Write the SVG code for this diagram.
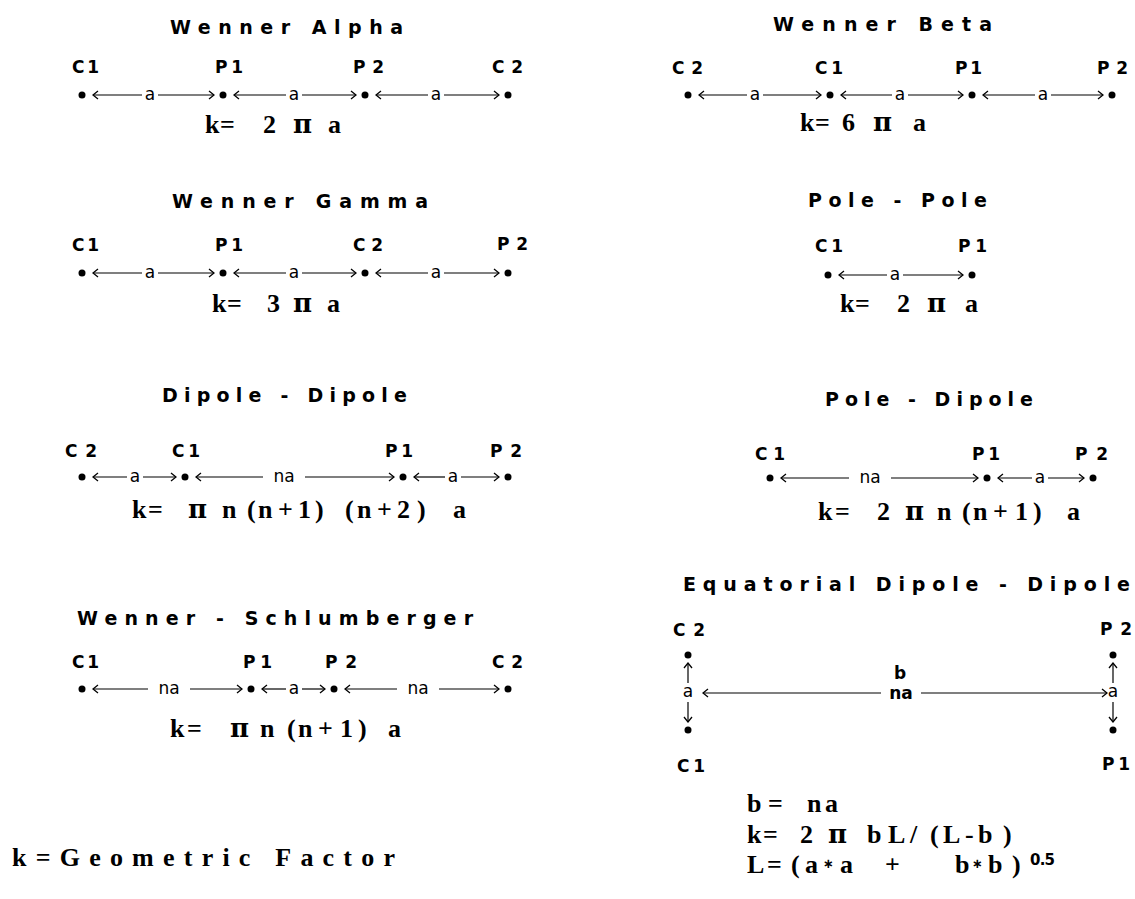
<svg xmlns="http://www.w3.org/2000/svg" width="1135" height="899" viewBox="0 0 1135 899">
<style>
.t{font-family:"DejaVu Sans","Liberation Sans",sans-serif;font-weight:bold;font-size:19px;fill:#000}
.l{font-family:"DejaVu Sans","Liberation Sans",sans-serif;font-weight:bold;font-size:17px;fill:#000}
.s{font-family:"DejaVu Sans","Liberation Sans",sans-serif;font-size:17px;fill:#000;text-anchor:middle}
.f{font-family:"Liberation Serif","Times New Roman",serif;font-weight:bold;font-size:26px;fill:#000}
.pi{font-family:"DejaVu Serif","Liberation Serif",serif;font-weight:bold}
.star{font-family:"DejaVu Sans",sans-serif;font-weight:bold;font-size:13px}
.sup{font-family:"DejaVu Sans","Liberation Sans",sans-serif;font-weight:bold;font-size:15px;fill:#000}
.d{fill:#000}
.a{fill:none;stroke:#000;stroke-width:1.2}
.st{marker-start:url(#ah)}
.en{marker-end:url(#ah)}
</style>
<defs>
<marker id="ah" viewBox="-7 -5 8 10" refX="0" refY="0" markerWidth="8" markerHeight="10" markerUnits="userSpaceOnUse" orient="auto-start-reverse">
<path d="M-5,-4 L0,0 L-5,4" fill="none" stroke="#000" stroke-width="1.3"/>
</marker>
</defs>
<rect width="1135" height="899" fill="#fff"/>

<g id="wenner-alpha">
<text class="t" x="170" y="34" textLength="233" lengthAdjust="spacing">Wenner Alpha</text>
<text class="l" x="72" y="73" textLength="27" lengthAdjust="spacing">C1</text>
<text class="l" x="215" y="73" textLength="28" lengthAdjust="spacing">P1</text>
<text class="l" x="353" y="73" textLength="31" lengthAdjust="spacing">P2</text>
<text class="l" x="492" y="73" textLength="31" lengthAdjust="spacing">C2</text>
<circle class="d" cx="82" cy="95" r="3.5"/><circle class="d" cx="223" cy="95" r="3.5"/><circle class="d" cx="365" cy="95" r="3.5"/><circle class="d" cx="508" cy="95" r="3.5"/>
<text class="f" x="205 220 263 293 328" y="133">k=2<tspan class="pi">π</tspan>a</text>
</g>

<g id="wenner-beta">
<text class="t" x="773" y="31" textLength="219" lengthAdjust="spacing">Wenner Beta</text>
<text class="l" x="672" y="74" textLength="31" lengthAdjust="spacing">C2</text>
<text class="l" x="815" y="74" textLength="28" lengthAdjust="spacing">C1</text>
<text class="l" x="955" y="74" textLength="27" lengthAdjust="spacing">P1</text>
<text class="l" x="1097" y="74" textLength="31" lengthAdjust="spacing">P2</text>
<circle class="d" cx="688" cy="95" r="3.5"/><circle class="d" cx="830" cy="95" r="3.5"/><circle class="d" cx="972" cy="95" r="3.5"/><circle class="d" cx="1112" cy="95" r="3.5"/>
<text class="f" x="800 815 842 873 913" y="131">k=6<tspan class="pi">π</tspan>a</text>
</g>

<g id="wenner-gamma">
<text class="t" x="172" y="208" textLength="256" lengthAdjust="spacing">Wenner Gamma</text>
<text class="l" x="72" y="251" textLength="27" lengthAdjust="spacing">C1</text>
<text class="l" x="215" y="251" textLength="28" lengthAdjust="spacing">P1</text>
<text class="l" x="353" y="251" textLength="30" lengthAdjust="spacing">C2</text>
<text class="l" x="497" y="250" textLength="31" lengthAdjust="spacing">P2</text>
<circle class="d" cx="82" cy="273" r="3.5"/><circle class="d" cx="223" cy="273" r="3.5"/><circle class="d" cx="365" cy="273" r="3.5"/><circle class="d" cx="508" cy="273" r="3.5"/>
<text class="f" x="212 227 267 293 327" y="312">k=3<tspan class="pi">π</tspan>a</text>
</g>

<g id="pole-pole">
<text class="t" x="808" y="207" textLength="179" lengthAdjust="spacing">Pole - Pole</text>
<text class="l" x="815" y="252" textLength="28" lengthAdjust="spacing">C1</text>
<text class="l" x="958" y="252" textLength="29" lengthAdjust="spacing">P1</text>
<circle class="d" cx="828" cy="275" r="3.5"/><circle class="d" cx="972" cy="275" r="3.5"/>
<text class="f" x="840 855 897 927 965" y="312">k=2<tspan class="pi">π</tspan>a</text>
</g>

<g id="dipole-dipole">
<text class="t" x="162" y="402" textLength="245" lengthAdjust="spacing">Dipole - Dipole</text>
<text class="l" x="65" y="457" textLength="32" lengthAdjust="spacing">C2</text>
<text class="l" x="172" y="457" textLength="28" lengthAdjust="spacing">C1</text>
<text class="l" x="385" y="457" textLength="28" lengthAdjust="spacing">P1</text>
<text class="l" x="490" y="457" textLength="32" lengthAdjust="spacing">P2</text>
<circle class="d" cx="82" cy="477" r="3.5"/><circle class="d" cx="185" cy="477" r="3.5"/><circle class="d" cx="403" cy="477" r="3.5"/><circle class="d" cx="508" cy="477" r="3.5"/>
<text class="f" x="132 148 188 222 247 258 278 298 315 345 357 377 397 417 453" y="518">k=<tspan class="pi">π</tspan>n(n+1)(n+2)a</text>
</g>

<g id="pole-dipole">
<text class="t" x="825" y="406" textLength="208" lengthAdjust="spacing">Pole - Dipole</text>
<text class="l" x="755" y="460" textLength="30" lengthAdjust="spacing">C1</text>
<text class="l" x="972" y="460" textLength="28" lengthAdjust="spacing">P1</text>
<text class="l" x="1075" y="460" textLength="33" lengthAdjust="spacing">P2</text>
<circle class="d" cx="770" cy="478" r="3.5"/><circle class="d" cx="987" cy="478" r="3.5"/><circle class="d" cx="1093" cy="478" r="3.5"/>
<text class="f" x="818 835 877 905 937 962 973 993 1015 1033 1067" y="520">k=2<tspan class="pi">π</tspan>n(n+1)a</text>
</g>

<g id="wenner-schlumberger">
<text class="t" x="77" y="625" textLength="396" lengthAdjust="spacing">Wenner - Schlumberger</text>
<text class="l" x="72" y="668" textLength="27" lengthAdjust="spacing">C1</text>
<text class="l" x="243" y="668" textLength="29" lengthAdjust="spacing">P1</text>
<text class="l" x="325" y="668" textLength="32" lengthAdjust="spacing">P2</text>
<text class="l" x="492" y="668" textLength="31" lengthAdjust="spacing">C2</text>
<circle class="d" cx="82" cy="689" r="3.5"/><circle class="d" cx="251" cy="689" r="3.5"/><circle class="d" cx="334" cy="689" r="3.5"/><circle class="d" cx="508" cy="689" r="3.5"/>
<text class="f" x="170 187 230 260 287 298 318 340 358 388" y="737">k=<tspan class="pi">π</tspan>n(n+1)a</text>
</g>

<g id="equatorial-dipole-dipole">
<text class="t" x="683" y="591" textLength="447" lengthAdjust="spacing">Equatorial Dipole - Dipole</text>
<text class="l" x="673" y="636" textLength="32" lengthAdjust="spacing">C2</text>
<text class="l" x="1100" y="635" textLength="32" lengthAdjust="spacing">P2</text>
<text class="l" x="677" y="772" textLength="28" lengthAdjust="spacing">C1</text>
<text class="l" x="1102" y="770" textLength="28" lengthAdjust="spacing">P1</text>
<circle class="d" cx="688" cy="655" r="3.5"/><circle class="d" cx="688" cy="730" r="3.5"/><circle class="d" cx="1113" cy="655" r="3.5"/><circle class="d" cx="1113" cy="730" r="3.5"/>
<text class="l" x="900" y="679" text-anchor="middle">b</text>
<text class="f" x="747 768 807 825" y="812">b=na</text>
<text class="f" x="747 763 800 828 867 888 910 930 943 965 978 1003" y="843">k=2<tspan class="pi">π</tspan>bL/(L-b)</text>
<text class="f" x="747 767 791 805 823 840 885 955 972 988 1012" y="873">L=(a<tspan class="star" dy="-5">∗</tspan><tspan dy="5">a+b</tspan><tspan class="star" dy="-5">∗</tspan><tspan dy="5">b)</tspan></text>
<text class="sup" x="1030" y="865" textLength="25" lengthAdjust="spacing">0.5</text>
</g>

<g id="legend">
<text class="f" x="12" y="866" textLength="383" lengthAdjust="spacing">k=Geometric Factor</text>
</g>

<g id="connectors">
<path class="a st" d="M93,95H142"/><path class="a en" d="M158,95H214"/><text class="s" x="150" y="100">a</text>
<path class="a st" d="M234,95H286"/><path class="a en" d="M302,95H356"/><text class="s" x="294" y="100">a</text>
<path class="a st" d="M376,95H428"/><path class="a en" d="M444,95H499"/><text class="s" x="436" y="100">a</text>

<path class="a st" d="M699,95H747"/><path class="a en" d="M763,95H821"/><text class="s" x="755" y="100">a</text>
<path class="a st" d="M841,95H892"/><path class="a en" d="M908,95H963"/><text class="s" x="900" y="100">a</text>
<path class="a st" d="M983,95H1035"/><path class="a en" d="M1051,95H1103"/><text class="s" x="1043" y="100">a</text>

<path class="a st" d="M93,273H142"/><path class="a en" d="M158,273H214"/><text class="s" x="150" y="278">a</text>
<path class="a st" d="M234,273H286"/><path class="a en" d="M302,273H356"/><text class="s" x="294" y="278">a</text>
<path class="a st" d="M376,273H428"/><path class="a en" d="M444,273H499"/><text class="s" x="436" y="278">a</text>

<path class="a st" d="M839,275H887"/><path class="a en" d="M903,275H963"/><text class="s" x="895" y="280">a</text>

<path class="a st" d="M93,477H127"/><path class="a en" d="M143,477H176"/><text class="s" x="135" y="482">a</text>
<path class="a st" d="M196,477H263"/><path class="a en" d="M305,477H394"/><text class="s" x="284" y="482">na</text>
<path class="a st" d="M414,477H445"/><path class="a en" d="M461,477H499"/><text class="s" x="453" y="482">a</text>

<path class="a st" d="M781,478H849"/><path class="a en" d="M891,478H978"/><text class="s" x="870" y="483">na</text>
<path class="a st" d="M998,478H1032"/><path class="a en" d="M1048,478H1084"/><text class="s" x="1040" y="483">a</text>

<path class="a st" d="M93,689H148"/><path class="a en" d="M190,689H242"/><text class="s" x="169" y="694">na</text>
<path class="a st" d="M262,689H286"/><path class="a en" d="M302,689H325"/><text class="s" x="294" y="694">a</text>
<path class="a st" d="M345,689H397"/><path class="a en" d="M439,689H499"/><text class="s" x="418" y="694">na</text>

<path class="a st" d="M703,693H881"/><path class="a en" d="M921,693H1107"/><text class="s" x="901" y="699" font-weight="bold" font-size="16">na</text>
<path class="a en" d="M688,683V663"/><path class="a en" d="M688,702V722"/><text class="s" x="688" y="697">a</text>
<path class="a en" d="M1113,683V663"/><path class="a en" d="M1113,702V722"/><text class="s" x="1113" y="697">a</text>
</g>
</svg>
